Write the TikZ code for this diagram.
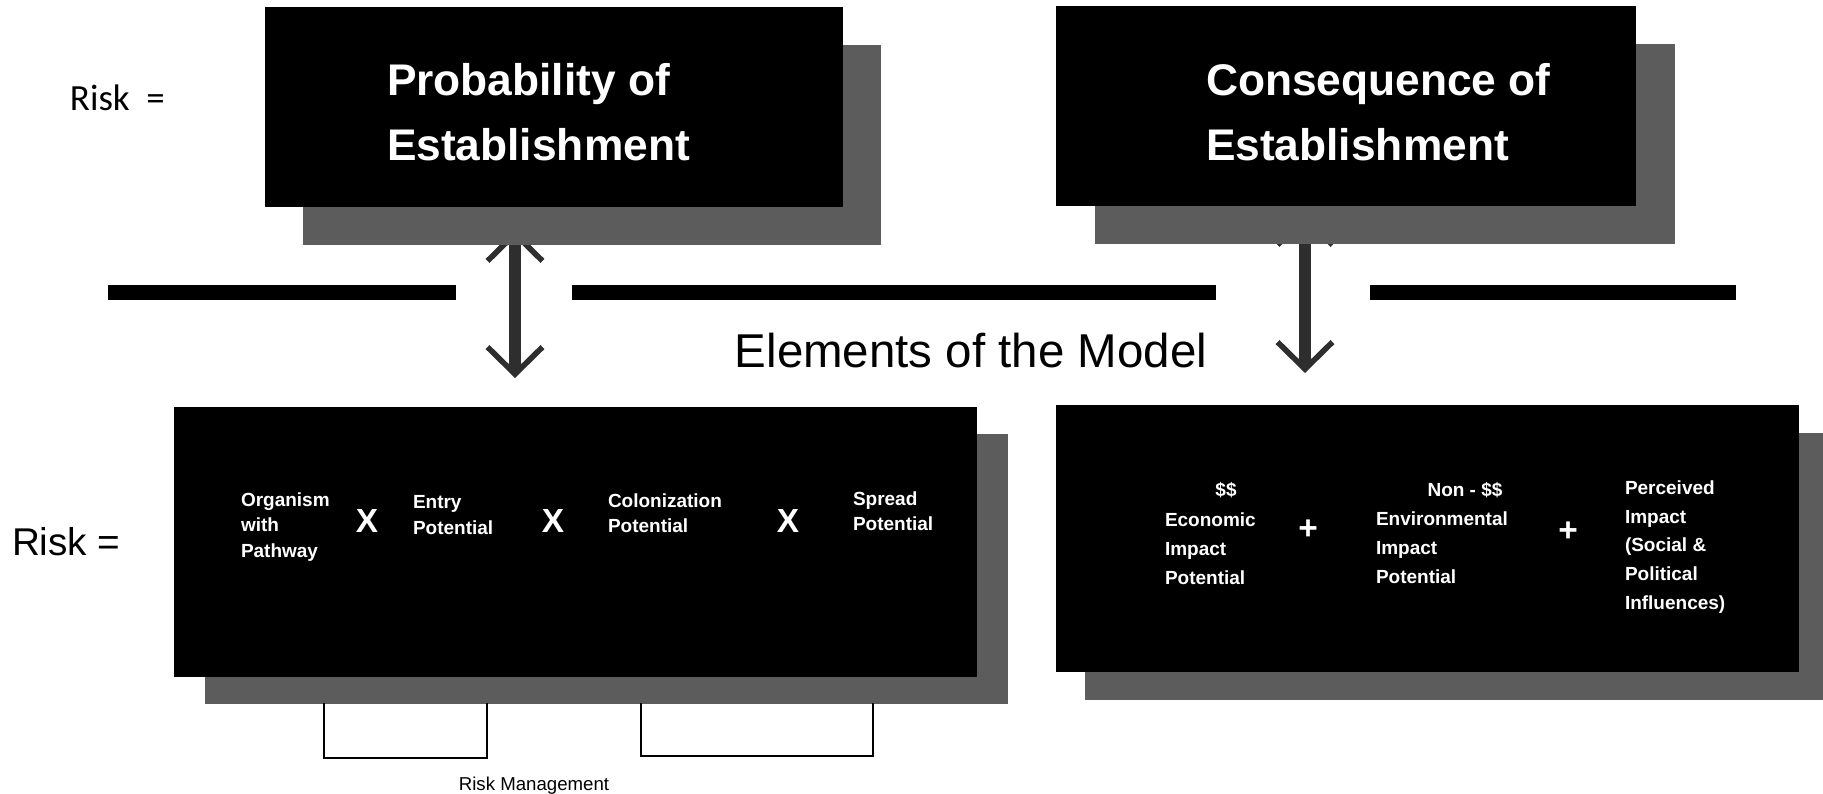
\documentclass[tikz,border=0pt]{standalone}
\usepackage{fontspec}
\setmainfont{Liberation Sans}
\newfontfamily\riskfont{Carlito}
\usepackage{tikz}
\usetikzlibrary{arrows.meta,shadows,backgrounds}
\definecolor{shadegray}{gray}{0.36}
\definecolor{shaftgray}{gray}{0.18}

\begin{document}
\begin{tikzpicture}
  [x=0.01cm,y=-0.01cm,every node/.style={inner sep=0pt,outer sep=0pt},
   blackbox/.style={rectangle,fill=black,anchor=north west},
   titletext/.style={anchor=west,align=left,text=white,font=\fontsize{12.6}{18.5}\selectfont\bfseries},
   itemtext/.style={anchor=west,align=left,text=white,font=\fontsize{5.4}{7.2}\selectfont\bfseries},
   itemtextb/.style={anchor=west,align=left,text=white,font=\fontsize{5.4}{8.2}\selectfont\bfseries},
   optext/.style={text=white,font=\fontsize{9.5}{10}\selectfont\bfseries},
   twoway/.style={line width=3.4pt,draw=shaftgray,>={Straight Barb[length=0.27cm,width=0.55cm,line width=1.6pt]},<->},
   bracket/.style={line width=0.45pt,draw=black}]

  \useasboundingbox (0,0) rectangle (1823,794);

  \node[blackbox,minimum width=5.78cm,minimum height=2cm,
    drop shadow={shadow xshift=0.38cm,shadow yshift=-0.38cm,fill=shadegray,opacity=1}] (pbox) at (265,7) {};
  \node[blackbox,minimum width=5.80cm,minimum height=2cm,
    drop shadow={shadow xshift=0.39cm,shadow yshift=-0.38cm,fill=shadegray,opacity=1}] (cbox) at (1056,6) {};
  \node[blackbox,minimum width=8.03cm,minimum height=2.70cm,
    drop shadow={shadow xshift=0.31cm,shadow yshift=-0.27cm,fill=shadegray,opacity=1}] (lbox) at (174,407) {};
  \node[blackbox,minimum width=7.43cm,minimum height=2.67cm,
    drop shadow={shadow xshift=0.29cm,shadow yshift=-0.28cm,fill=shadegray,opacity=1}] (rbox) at (1056,405) {};

  \node[anchor=west,font=\riskfont\fontsize{10.5}{12}\selectfont] (risktop) at (70,98) {Risk\ \ =};
  \node[anchor=west,font=\fontsize{11}{13}\selectfont] (riskbot) at (12,542) {Risk =};

  \node[titletext] (ptext) at (387,112) {Probability of\\Establishment};
  \node[titletext] (ctext) at (1206,112) {Consequence of\\Establishment};

  \foreach \a/\b in {108/456,572/1216,1370/1736}
    \fill (\a,285) rectangle (\b,300);

  \node[font=\fontsize{13.5}{15}\selectfont] (elem) at (971,351) {Elements of the Model};

  \coordinate (ptop) at (515,230);
  \coordinate (pend) at (515,378);
  \coordinate (ctop) at (1305,214);
  \coordinate (cend) at (1305,373);
  \begin{scope}[on background layer]
    \draw[twoway] (ptop) -- (pend);
    \draw[twoway] (ctop) -- (cend);
  \end{scope}

  \node[itemtext] (org) at (241,527) {Organism\\with\\Pathway};
  \node[itemtext] (entry) at (413,515) {Entry\\Potential};
  \node[itemtext] (colon) at (608,513) {Colonization\\Potential};
  \node[itemtext] (spread) at (853,511) {Spread\\Potential};
  \foreach \n/\x in {x1/367,x2/553,x3/788}
    \node[optext] (\n) at (\x,521) {X};

  \node[itemtext,anchor=center] (dol) at (1226,490) {\$\$};
  \node[itemtextb] (econ) at (1165,549) {Economic\\Impact\\Potential};
  \node[itemtext,anchor=center] (nondol) at (1465,490) {Non - \$\$};
  \node[itemtextb] (env) at (1376,548) {Environmental\\Impact\\Potential};
  \node[itemtextb] (perc) at (1625,547) {Perceived\\Impact\\(Social \&\\Political\\Influences)};
  \foreach \n/\x/\y in {p1/1308/530,p2/1568/532}
    \node[optext] (\n) at (\x,\y) {+};

  \coordinate (b1) at (324,703);
  \coordinate (b2) at (487,703);
  \coordinate (b3) at (641,703);
  \coordinate (b4) at (873,703);
  \draw[bracket] (b1) -- ++(0,55) -| (b2);
  \draw[bracket] (b3) -- ++(0,53) -| (b4);
  \node[font=\fontsize{5.3}{6}\selectfont] (rm) at (534,786) {Risk Management};
\end{tikzpicture}
\end{document}
